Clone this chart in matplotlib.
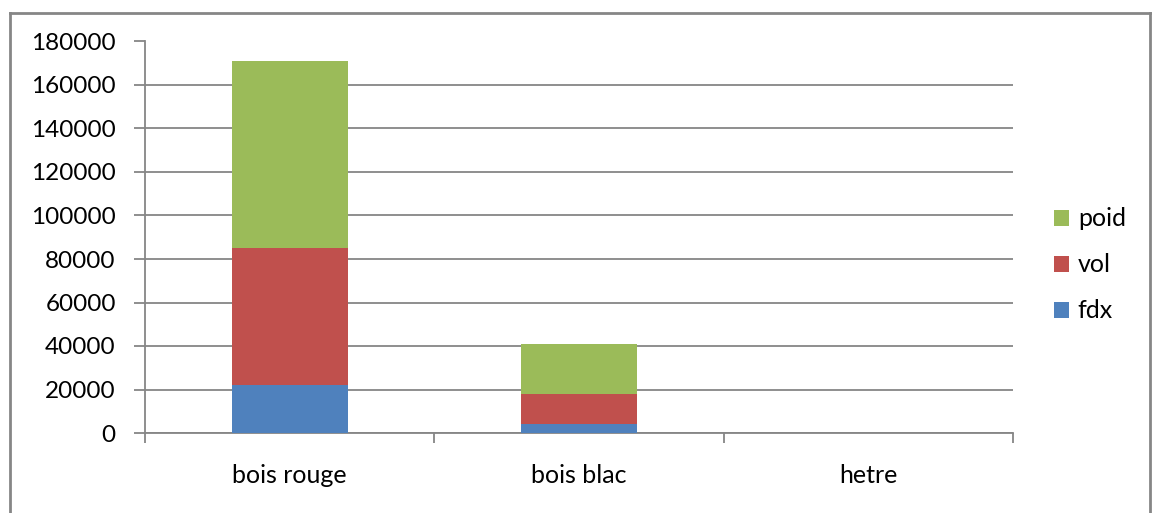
import matplotlib.pyplot as plt
from matplotlib.lines import Line2D
from matplotlib.patches import Patch

# ------------------------------------------------------------
# Data
# ------------------------------------------------------------

CATEGORIES = ["bois rouge", "bois blac", "hetre"]

FDX = [22000, 4000, 0]
VOL = [63000, 14000, 0]
POID = [86000, 23000, 0]

Y_TICKS = [0, 20000, 40000, 60000, 80000, 100000, 120000, 140000, 160000, 180000]

# ------------------------------------------------------------
# Style
# ------------------------------------------------------------

BLUE = "#4F81BD"
RED = "#C0504D"
GREEN = "#9BBB59"
GRID = "#868686"

plt.rcParams["font.family"] = ["Lato", "DejaVu Sans"]

W, H = 1157, 513
fig = plt.figure(figsize=(W / 100, H / 100), dpi=100)
ax = fig.add_axes([145 / W, 1 - 433 / H, (1013 - 145) / W, (433 - 41.5) / H])

x = list(range(len(CATEGORIES)))
bar_width = 0.4

bottom_vol = FDX
bottom_poid = [a + b for a, b in zip(FDX, VOL)]

ax.bar(x, FDX, width=bar_width, color=BLUE, label="fdx", zorder=3)
ax.bar(x, VOL, width=bar_width, bottom=bottom_vol, color=RED,
       label="vol", zorder=3)
ax.bar(x, POID, width=bar_width, bottom=bottom_poid, color=GREEN,
       label="poid", zorder=3)

ax.set_xlim(-0.5, len(CATEGORIES) - 0.5)
ax.set_ylim(0, 180000)

ax.set_yticks(Y_TICKS)
ax.set_yticklabels([str(v) for v in Y_TICKS])
ax.yaxis.grid(True, color=GRID, linewidth=1.3, zorder=0)

# category labels centred, tick marks on the category boundaries
ax.set_xticks(x)
ax.set_xticklabels(CATEGORIES)
ax.set_xticks([i - 0.5 for i in range(len(CATEGORIES) + 1)], minor=True)
ax.tick_params(axis="x", which="major", length=0, pad=22, labelsize=18)
ax.tick_params(axis="x", which="minor", length=7, width=1.3,
               color=GRID, direction="out")
ax.tick_params(axis="y", length=8, width=1.3, color=GRID,
               direction="out", pad=13, labelsize=17.5)

for side in ["top", "right"]:
    ax.spines[side].set_visible(False)
for side in ["left", "bottom"]:
    ax.spines[side].set_color(GRID)
    ax.spines[side].set_linewidth(1.3)

# legend on the right, top entry first
handles = [
    Patch(facecolor=GREEN, label="poid"),
    Patch(facecolor=RED, label="vol"),
    Patch(facecolor=BLUE, label="fdx"),
]
fig.legend(
    handles=handles,
    loc="center left",
    bbox_to_anchor=(1031 / W, 1 - 265 / H),
    frameon=False,
    fontsize=18,
    handlelength=0.62,
    handleheight=0.62,
    handletextpad=0.35,
    labelspacing=0.92,
)

# chart frame (open at the bottom)
left, right, top = 9.5 / W, 1150 / W, 1 - 13 / H
frame_kw = dict(color=GRID, linewidth=2, transform=fig.transFigure)
fig.add_artist(Line2D([left, right], [top, top], **frame_kw))
fig.add_artist(Line2D([left, left], [top, -0.05], **frame_kw))
fig.add_artist(Line2D([right, right], [top, -0.05], **frame_kw))

fig.savefig("out.png", dpi=100)
